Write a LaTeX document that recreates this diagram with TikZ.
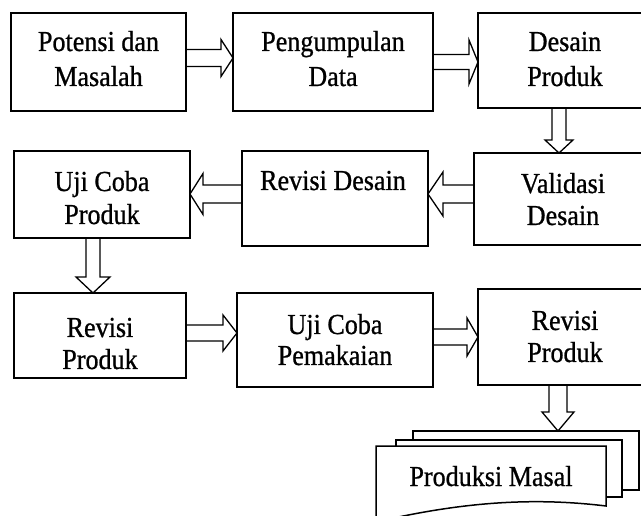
\documentclass[tikz,border=0pt]{standalone}
\usepackage{fontspec}
\setmainfont{Liberation Serif}[FakeStretch=0.9,FakeBold=0.8]
\usetikzlibrary{calc}
\tikzset{
  box/.style={draw, line width=1.5pt, inner sep=0pt, outer sep=0pt, fill=white},
  txt/.style={anchor=base, inner sep=0pt, font=\fontsize{29}{35}\selectfont},
  barrow/.style={draw, line width=1.3pt, line join=miter},
  page/.style={draw, line width=1.5pt, fill=white, inner sep=0pt, outer sep=0pt}
}
% right block arrow: #1 from, #2 to, #3 y, #4 body half, #5 head half, #6 head length
\newcommand\blkR[6]{\draw[barrow] ($(#1.east |- 0,#3)+(0,-#4)$) -- ($(#2.west |- 0,#3)+(-#6,-#4)$) -- ($(#2.west |- 0,#3)+(-#6,-#5)$) -- (#2.west |- 0,#3) -- ($(#2.west |- 0,#3)+(-#6,#5)$) -- ($(#2.west |- 0,#3)+(-#6,#4)$) -- ($(#1.east |- 0,#3)+(0,#4)$);}
\newcommand\blkL[6]{\draw[barrow] ($(#1.west |- 0,#3)+(0,-#4)$) -- ($(#2.east |- 0,#3)+(#6,-#4)$) -- ($(#2.east |- 0,#3)+(#6,-#5)$) -- (#2.east |- 0,#3) -- ($(#2.east |- 0,#3)+(#6,#5)$) -- ($(#2.east |- 0,#3)+(#6,#4)$) -- ($(#1.west |- 0,#3)+(0,#4)$);}
\newcommand\blkD[6]{\draw[barrow] ($(#1.south -| #3,0)+(-#4,0)$) -- ($(#2.north -| #3,0)+(-#4,-#6)$) -- ($(#2.north -| #3,0)+(-#5,-#6)$) -- (#2.north -| #3,0) -- ($(#2.north -| #3,0)+(#5,-#6)$) -- ($(#2.north -| #3,0)+(#4,-#6)$) -- ($(#1.south -| #3,0)+(#4,0)$);}
\begin{document}
\begin{tikzpicture}[x=1pt,y=-1pt]
\useasboundingbox (0,0) rectangle (641,516);
\fill[white] (0,0) rectangle (641,516);
\clip (0,0) rectangle (641,516);
% boxes
\node[box, minimum width=175pt, minimum height=98pt] (b1) at (98.5,62) {};
\node[box, minimum width=200pt, minimum height=98pt] (b2) at (333,62) {};
\node[box, minimum width=174pt, minimum height=95pt] (b3) at (565,60.5) {};
\node[box, minimum width=176pt, minimum height=87pt] (b4) at (102,194.5) {};
\node[box, minimum width=186pt, minimum height=95pt] (b5) at (335,198.5) {};
\node[box, minimum width=178pt, minimum height=92pt] (b6) at (563,199) {};
\node[box, minimum width=172pt, minimum height=85pt] (b7) at (100,335.5) {};
\node[box, minimum width=196pt, minimum height=94pt] (b8) at (335,340) {};
\node[box, minimum width=174pt, minimum height=96pt] (b9) at (565,337) {};
% texts
\node[txt] (t1a) at (98.5,51) {Potensi dan};
\node[txt] (t1b) at (98.5,86) {Masalah};
\node[txt] (t2a) at (333,51) {Pengumpulan};
\node[txt] (t2b) at (333,86) {Data};
\node[txt] (t3a) at (565,51) {Desain};
\node[txt] (t3b) at (565,86) {Produk};
\node[txt] (t4a) at (102,191) {Uji Coba};
\node[txt] (t4b) at (102,224) {Produk};
\node[txt] (t5a) at (333,190) {Revisi Desain};
\node[txt] (t6a) at (563,193) {Validasi};
\node[txt] (t6b) at (563,225) {Desain};
\node[txt] (t7a) at (100,337) {Revisi};
\node[txt] (t7b) at (100,369) {Produk};
\node[txt] (t8a) at (335,334) {Uji Coba};
\node[txt] (t8b) at (335,365) {Pemakaian};
\node[txt] (t9a) at (565,330) {Revisi};
\node[txt] (t9b) at (565,362) {Produk};
% multi-document
\node[page, minimum width=226pt, minimum height=59pt] (p3) at (526,460.5) {};
\node[page, minimum width=226pt, minimum height=57pt] (p2) at (509,468.5) {};
\coordinate (fl) at (376,446);
\coordinate (fr) at (606,446);
\draw[page] (fl) -- (fr) -- (606,506) .. controls (540,498) and (470,500) .. (376,522) -- cycle;
\node[txt] (pm) at (491,486) {Produksi Masal};
% arrows
\blkR{b1}{b2}{58}{8.5}{18.5}{12}
\blkR{b2}{b3}{62}{7.5}{22}{9}
\blkD{b3}{b6}{559}{7}{14}{13}
\blkL{b6}{b5}{194}{9}{22}{15}
\blkL{b5}{b4}{194}{9}{20.5}{13}
\blkD{b4}{b7}{93}{7}{17}{16}
\blkR{b7}{b8}{333}{8}{18}{14}
\blkR{b8}{b9}{337}{8}{19}{11}
\blkD{b9}{p3}{558}{9}{16}{19}
\end{tikzpicture}
\end{document}
